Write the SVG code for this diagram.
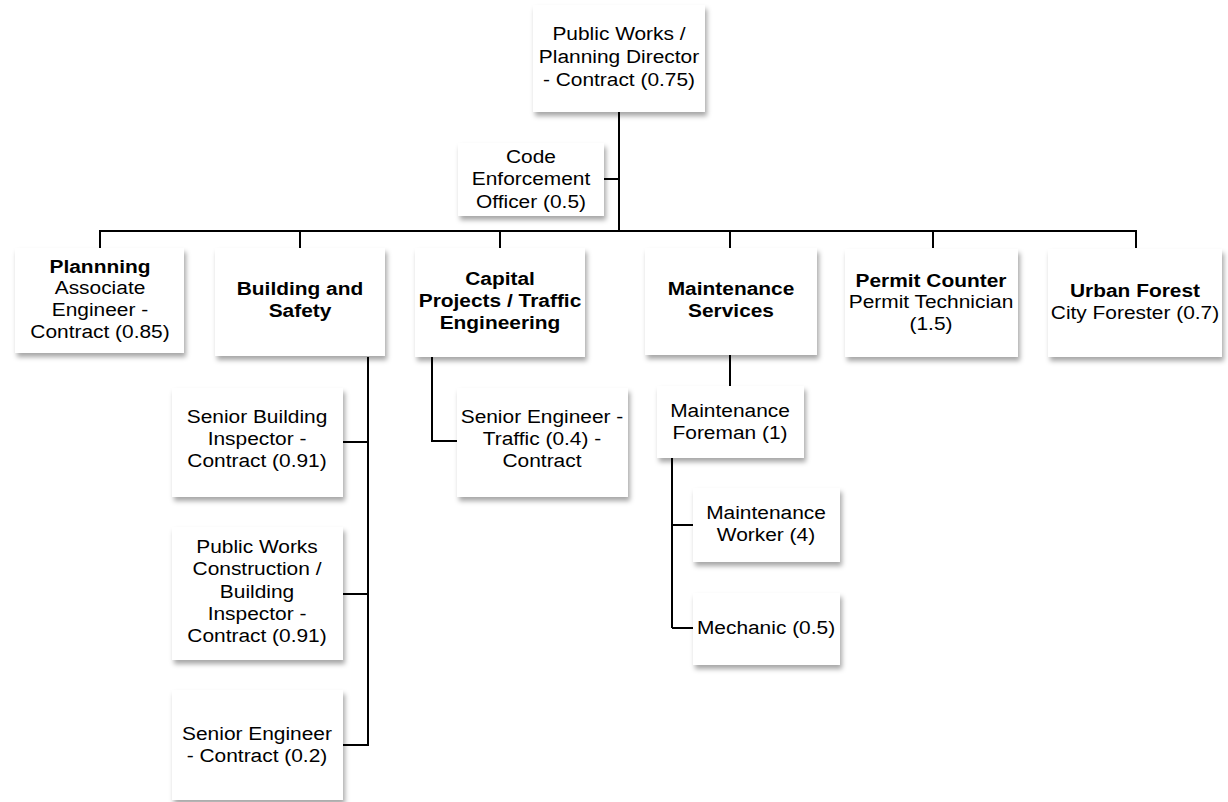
<svg xmlns="http://www.w3.org/2000/svg" width="1228" height="802" viewBox="0 0 1228 802">
<defs>
<filter id="sh" x="-10%" y="-10%" width="125%" height="130%">
<feDropShadow dx="2" dy="4" stdDeviation="2.5" flood-color="#000" flood-opacity="0.35"/>
</filter>
<style>
.box{fill:#fff;filter:url(#sh)}
.t{font-family:"Liberation Sans",Arial,sans-serif;font-size:19px;fill:#000;text-anchor:middle}
.b{font-weight:bold}
.c{fill:none;stroke:#000;stroke-width:2}
</style>
</defs>
<rect width="1228" height="802" fill="#fff"/>
<g id="connectors">
<path class="c" d="M619 112V231"/>
<path class="c" d="M604 179H619"/>
<path class="c" d="M99 231H1137"/>
<path class="c" d="M100 231V248M300 231V248M500 231V248M730 231V248M933 231V248M1136 231V248"/>
<path class="c" d="M368 357V746M343 442H368M343 594H368M343 745H368"/>
<path class="c" d="M432 357V441H457"/>
<path class="c" d="M730 355V386"/>
<path class="c" d="M672 458V628M672 525H693M672 628H693"/>
</g>
<g id="n-director">
<rect class="box" x="533" y="5" width="172" height="107"/>
<text class="t" transform="translate(619,0) scale(1.1,1)"><tspan x="0" y="40">Public Works /</tspan><tspan x="0" y="63">Planning Director</tspan><tspan x="0" y="86">- Contract (0.75)</tspan></text>
</g>
<g id="n-code">
<rect class="box" x="458" y="143" width="146" height="73"/>
<text class="t" transform="translate(531,0) scale(1.1,1)"><tspan x="0" y="163">Code</tspan><tspan x="0" y="185">Enforcement</tspan><tspan x="0" y="208">Officer (0.5)</tspan></text>
</g>
<g id="n-planning">
<rect class="box" x="15" y="248" width="169" height="105"/>
<text class="t" transform="translate(100,0) scale(1.1,1)"><tspan x="0" y="273" class="b">Plannning</tspan><tspan x="0" y="294">Associate</tspan><tspan x="0" y="316">Engineer -</tspan><tspan x="0" y="338">Contract (0.85)</tspan></text>
</g>
<g id="n-building">
<rect class="box" x="215" y="248" width="170" height="108"/>
<text class="t b" transform="translate(300,0) scale(1.1,1)"><tspan x="0" y="295">Building and</tspan><tspan x="0" y="317">Safety</tspan></text>
</g>
<g id="n-capital">
<rect class="box" x="415" y="248" width="170" height="109"/>
<text class="t b" transform="translate(500,0) scale(1.1,1)"><tspan x="0" y="285">Capital</tspan><tspan x="0" y="307">Projects / Traffic</tspan><tspan x="0" y="329">Engineering</tspan></text>
</g>
<g id="n-maint">
<rect class="box" x="645" y="248" width="172" height="107"/>
<text class="t b" transform="translate(731,0) scale(1.1,1)"><tspan x="0" y="295">Maintenance</tspan><tspan x="0" y="317">Services</tspan></text>
</g>
<g id="n-permit">
<rect class="box" x="845" y="249" width="173" height="108"/>
<text class="t" transform="translate(931,0) scale(1.1,1)"><tspan x="0" y="287" class="b">Permit Counter</tspan><tspan x="0" y="308">Permit Technician</tspan><tspan x="0" y="330">(1.5)</tspan></text>
</g>
<g id="n-urban">
<rect class="box" x="1048" y="249" width="174" height="108"/>
<text class="t" transform="translate(1135,0) scale(1.1,1)"><tspan x="0" y="297" class="b">Urban Forest</tspan><tspan x="0" y="319">City Forester (0.7)</tspan></text>
</g>
<g id="n-sbi">
<rect class="box" x="172" y="388" width="171" height="109"/>
<text class="t" transform="translate(257,0) scale(1.1,1)"><tspan x="0" y="423">Senior Building</tspan><tspan x="0" y="445">Inspector -</tspan><tspan x="0" y="467">Contract (0.91)</tspan></text>
</g>
<g id="n-pwc">
<rect class="box" x="172" y="527" width="171" height="133"/>
<text class="t" transform="translate(257,0) scale(1.1,1)"><tspan x="0" y="553">Public Works</tspan><tspan x="0" y="575">Construction /</tspan><tspan x="0" y="598">Building</tspan><tspan x="0" y="620">Inspector -</tspan><tspan x="0" y="642">Contract (0.91)</tspan></text>
</g>
<g id="n-sec">
<rect class="box" x="172" y="690" width="171" height="110"/>
<text class="t" transform="translate(257,0) scale(1.1,1)"><tspan x="0" y="740">Senior Engineer</tspan><tspan x="0" y="762">- Contract (0.2)</tspan></text>
</g>
<g id="n-set">
<rect class="box" x="457" y="388" width="171" height="109"/>
<text class="t" transform="translate(542,0) scale(1.1,1)"><tspan x="0" y="423">Senior Engineer -</tspan><tspan x="0" y="445">Traffic (0.4) -</tspan><tspan x="0" y="467">Contract</tspan></text>
</g>
<g id="n-foreman">
<rect class="box" x="657" y="386" width="147" height="72"/>
<text class="t" transform="translate(730,0) scale(1.1,1)"><tspan x="0" y="417">Maintenance</tspan><tspan x="0" y="439">Foreman (1)</tspan></text>
</g>
<g id="n-worker">
<rect class="box" x="693" y="488" width="147" height="74"/>
<text class="t" transform="translate(766,0) scale(1.1,1)"><tspan x="0" y="519">Maintenance</tspan><tspan x="0" y="541">Worker (4)</tspan></text>
</g>
<g id="n-mechanic">
<rect class="box" x="693" y="593" width="147" height="72"/>
<text class="t" transform="translate(766,0) scale(1.1,1)"><tspan x="0" y="634">Mechanic (0.5)</tspan></text>
</g>
</svg>
